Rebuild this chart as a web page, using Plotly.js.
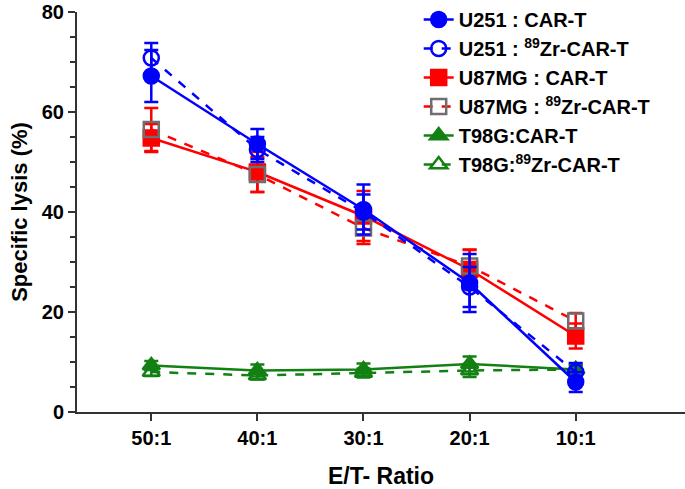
<!DOCTYPE html>
<html><head><meta charset="utf-8">
<script src="https://cdn.plot.ly/plotly-3.0.1.min.js"></script>
<style>html,body{margin:0;padding:0;background:#fff}#c{width:685px;height:489px}</style>
</head><body><div id="c"></div>
<script>
const categories = ["50:1","40:1","30:1","20:1","10:1"];
const u251Car = [67.2, 53.6, 40.5, 25.8, 6.0];
const u251CarErr = [5.2, 3.0, 5.0, 5.8, 2.0];
const u251Zr = [70.8, 52.5, 40.0, 25.0, 8.0];
const u251ZrErr = [3.0, 2.5, 3.5, 4.0, 1.8];
const u87Car = [54.8, 48.0, 39.2, 28.5, 15.2];
const u87CarErr = [2.8, 4.0, 5.0, 4.0, 2.5];
const u87Zr = [56.5, 47.5, 36.8, 29.2, 18.2];
const u87ZrErr = [4.3, 3.5, 3.2, 3.2, 1.6];
const t98Car = [9.3, 8.3, 8.5, 9.6, 8.5];
const t98CarErr = [0.9, 1.2, 1.2, 1.5, 1.0];
const t98Zr = [8.0, 7.3, 7.8, 8.3, 8.5];
const t98ZrErr = [0.8, 0.8, 0.9, 1.3, 0.8];

const xs = categories.map((c,i)=>i);
function tr(name, y, err, color, dash, symbol, mcolor, rank, ecolor){
  return {x: xs, y: y, name: name, type:'scatter', mode:'lines+markers',
    line:{color:color, width:2.5, dash:dash},
    marker:{symbol:symbol, size:15, color: mcolor || color, line:{color: mcolor || color, width:2.5}},
    error_y:{type:'data', array: err, visible:true, color: ecolor || color, thickness:2.5, width:7},
    legendrank: rank};
}
const data = [
  tr('T98G:CAR-T', t98Car, t98CarErr, '#138013', 'solid', 'triangle-up', null, 5),
  tr('T98G:<sup>89</sup>Zr-CAR-T', t98Zr, t98ZrErr, '#138013', 'dash', 'triangle-up-open', null, 6),
  tr('U87MG : CAR-T', u87Car, u87CarErr, '#ff0000', 'solid', 'square', null, 3),
  tr('U87MG : <sup>89</sup>Zr-CAR-T', u87Zr, u87ZrErr, '#ff0000', 'dash', 'square-open', '#6e6e6e', 4, '#ff0000'),
  tr('U251 : CAR-T', u251Car, u251CarErr, '#0000ff', 'solid', 'circle', null, 1),
  tr('U251 : <sup>89</sup>Zr-CAR-T', u251Zr, u251ZrErr, '#0000ff', 'dash', 'circle-open', null, 2)
];
const layout = {
  width:685, height:489,
  margin:{l:77, r:0, t:9, b:77},
  paper_bgcolor:'#fff', plot_bgcolor:'#fff',
  font:{family:'Liberation Sans, Arial, sans-serif', color:'#000'},
  showlegend:true,
  legend:{x:0.562, y:1.03, xanchor:'left', yanchor:'top', bgcolor:'rgba(0,0,0,0)',
    font:{size:20, family:'Liberation Sans, Arial, sans-serif', weight:'bold'}, tracegroupgap:0, itemwidth:30},
  xaxis:{range:[-0.7, 5.03], tickvals: xs, ticktext: categories, showgrid:false, zeroline:false,
    showline:true, linecolor:'#333', linewidth:2, ticks:'outside', ticklen:7, tickwidth:2, tickcolor:'#333',
    tickfont:{size:20, weight:'bold'}, ticklabeloverflow:'allow',
    title:{text:'E/T- Ratio', font:{size:23, weight:'bold'}, standoff:28}},
  yaxis:{range:[0,80], tickvals:[0,20,40,60,80], ticktext:['0','20','40','60','80'], showgrid:false, zeroline:false,
    showline:true, linecolor:'#333', linewidth:2, ticks:'outside', ticklen:7, tickwidth:2, tickcolor:'#333',
    tickfont:{size:20, weight:'bold'}, ticklabeloverflow:'allow',
    minor:{tickvals:[5,10,15,25,30,35,45,50,55,65,70,75], ticks:'outside', ticklen:5, tickwidth:2, tickcolor:'#333', showgrid:false},
    title:{text:'Specific lysis (%)', font:{size:22, weight:'bold'}, standoff:8}}
};
Plotly.newPlot('c', data, layout, {displayModeBar:false, staticPlot:true});
</script></body></html>
